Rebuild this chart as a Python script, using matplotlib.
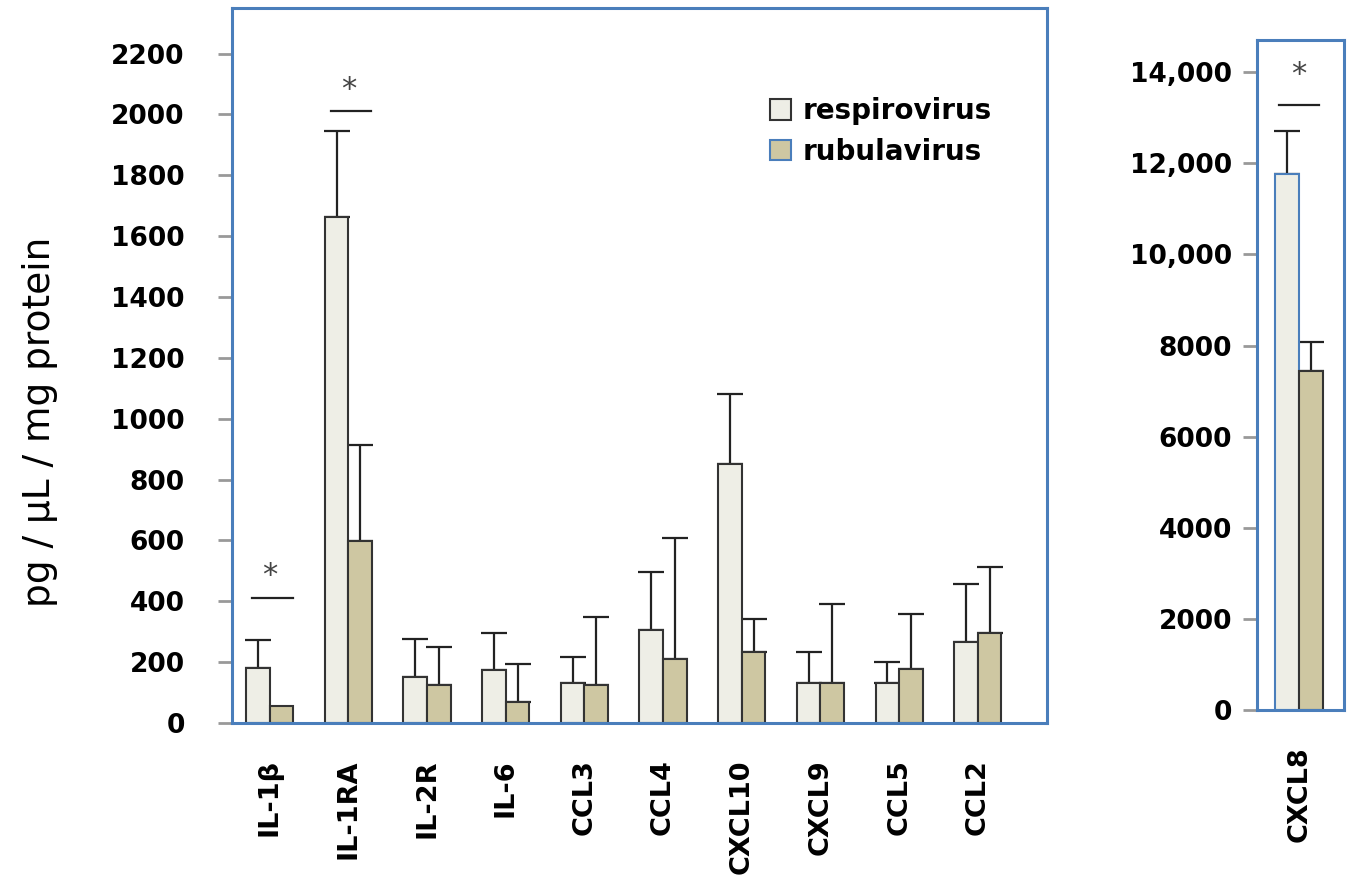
import numpy as np
import matplotlib
matplotlib.use("Agg")
import matplotlib.pyplot as plt
from matplotlib.patches import Patch

# data
cytokines = ["IL-1\u03b2", "IL-1RA", "IL-2R", "IL-6", "CCL3", "CCL4", "CXCL10", "CXCL9", "CCL5", "CCL2"]
respiro_mean = [181, 1664, 151, 175, 130, 305, 852, 130, 130, 265]
respiro_top = [272, 1947, 276, 295, 218, 497, 1080, 232, 200, 458]
rubula_mean = [56, 599, 125, 70, 125, 210, 233, 130, 178, 297]
rubula_top = [np.nan, 914, 250, 195, 350, 608, 343, 390, 358, 513]
left_ticks = [0, 200, 400, 600, 800, 1000, 1200, 1400, 1600, 1800, 2000, 2200]
sig_left = {"IL-1\u03b2": 411, "IL-1RA": 2010}

cxcl8_label = ["CXCL8"]
cxcl8_respiro = [11762]
cxcl8_respiro_top = [12706]
cxcl8_rubula = [7439]
cxcl8_rubula_top = [8076]
right_ticks = [0, 2000, 4000, 6000, 8000, 10000, 12000, 14000]
right_ticklabels = ["0", "2000", "4000", "6000", "8000", "10,000", "12,000", "14,000"]
sig_right = 13276

C_RESP = "#EEEEE6"
C_RUBU = "#CEC7A2"
C_EDGE = "#333333"
C_SPINE = "#4A7EBB"
BW = 0.3

fig = plt.figure(figsize=(13.54, 8.77), dpi=100)
ax1 = fig.add_axes([0.1713, 0.1756, 0.602, 0.8153])
ax2 = fig.add_axes([0.9284, 0.1904, 0.0643, 0.7636])


def style_axes(ax, pad):
    for sp in ax.spines.values():
        sp.set_color(C_SPINE)
        sp.set_linewidth(2.2)
    ax.tick_params(axis="y", direction="out", length=10, width=2, color="#999999",
                   pad=pad, labelsize=19)
    ax.tick_params(axis="x", length=0, pad=26, labelsize=19.5)
    for lab in ax.get_yticklabels():
        lab.set_fontweight("bold")
    for lab in ax.get_xticklabels():
        lab.set_fontweight("bold")
        lab.set_rotation(90)
        lab.set_va("top")


def draw_errs(ax, xs, means, tops):
    for x, m, t in zip(xs, means, tops):
        if np.isnan(t):
            continue
        ax.errorbar([x], [m], yerr=[[0], [t - m]], fmt="none", ecolor="#222222",
                    elinewidth=1.6, capsize=9.5, capthick=1.6, zorder=1)


x = np.arange(len(cytokines))
ax1.bar(x - BW / 2, respiro_mean, BW, color=C_RESP, edgecolor=C_EDGE, linewidth=1.5,
        label="respirovirus", zorder=2)
ax1.bar(x + BW / 2, rubula_mean, BW, color=C_RUBU, edgecolor=C_EDGE, linewidth=1.5,
        label="rubulavirus", zorder=2)
draw_errs(ax1, x - BW / 2, respiro_mean, respiro_top)
draw_errs(ax1, x + BW / 2, rubula_mean, rubula_top)

for name, yv in sig_left.items():
    i = cytokines.index(name)
    ax1.plot([i - 0.22, i + 0.29], [yv, yv], color="#222222", lw=1.6)
    ax1.text(i, yv + 25, "*", ha="center", va="bottom", fontsize=22, color="#444444")

ax1.set_xlim(-0.48, 9.88)
ax1.set_ylim(0, 2350)
ax1.set_yticks(left_ticks)
ax1.set_xticks(x)
ax1.set_xticklabels(cytokines)
style_axes(ax1, pad=24)

handles = [Patch(facecolor=C_RESP, edgecolor=C_EDGE, linewidth=1.5),
           Patch(facecolor=C_RUBU, edgecolor=C_SPINE, linewidth=1.5)]
ax1.legend(handles, ["respirovirus", "rubulavirus"], loc="upper left",
           bbox_to_anchor=(0.63, 0.91), frameon=False, handlelength=0.75,
           handleheight=0.75, handletextpad=0.4, labelspacing=0.45,
           prop={"size": 20, "weight": "bold"})

fig.text(40 / 1354, 1 - 422 / 877, "pg / \u00b5L / mg protein", rotation=90,
         ha="center", va="center", fontsize=27)

# CXCL8 panel
x2 = np.arange(len(cxcl8_label))
ax2.bar(x2 - BW / 2, cxcl8_respiro, BW, color=C_RESP, edgecolor=C_SPINE, linewidth=1.5, zorder=2)
ax2.bar(x2 + BW / 2, cxcl8_rubula, BW, color=C_RUBU, edgecolor=C_EDGE, linewidth=1.5, zorder=2)
draw_errs(ax2, x2 - BW / 2, cxcl8_respiro, cxcl8_respiro_top)
draw_errs(ax2, x2 + BW / 2, cxcl8_rubula, cxcl8_rubula_top)
ax2.plot([-0.25, 0.25], [sig_right, sig_right], color="#222222", lw=1.6)
ax2.text(0, sig_right + 350, "*", ha="center", va="bottom", fontsize=22, color="#444444")
ax2.set_xlim(-0.525, 0.56)
ax2.set_ylim(0, 14700)
ax2.set_yticks(right_ticks)
ax2.set_yticklabels(right_ticklabels)
ax2.set_xticks(x2)
ax2.set_xticklabels(cxcl8_label)
style_axes(ax2, pad=8)

fig.savefig("out.png", dpi=100)
